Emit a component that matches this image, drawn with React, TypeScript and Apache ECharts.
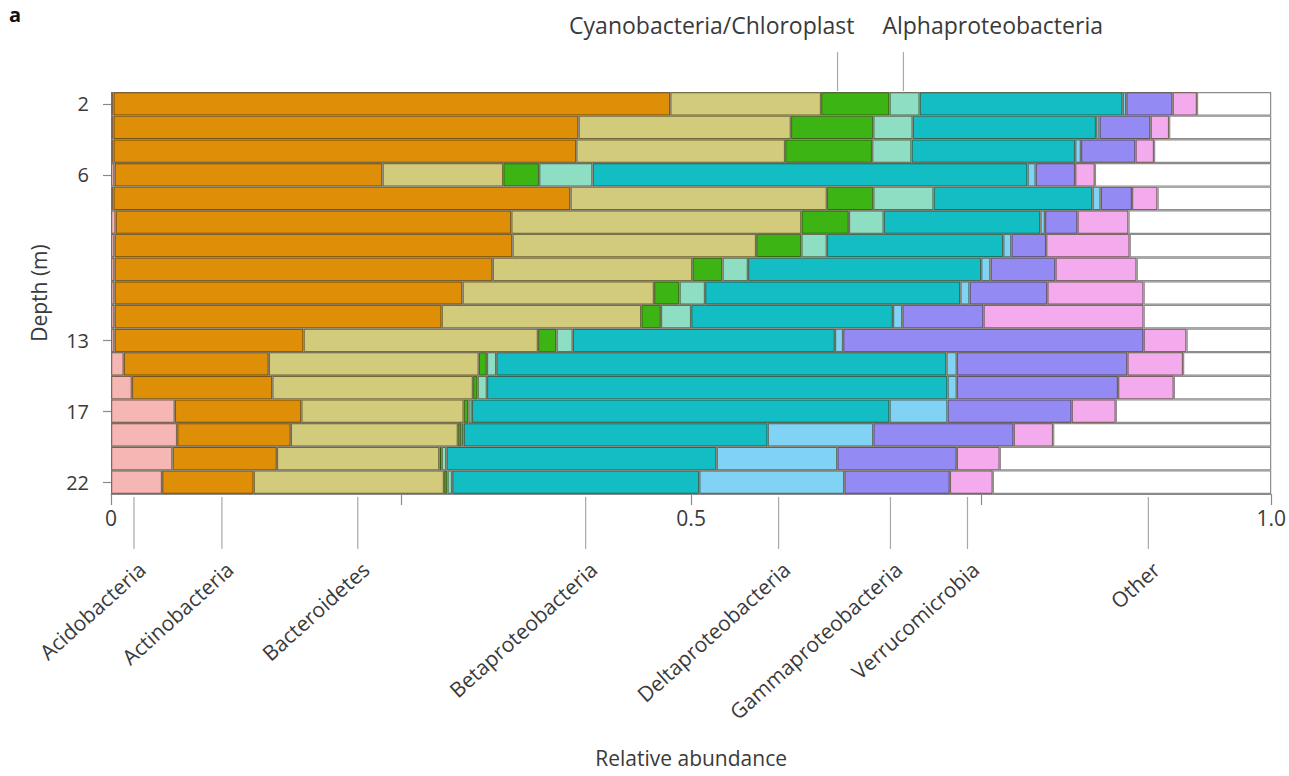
import React, { useEffect, useRef } from "react";
import * as echarts from "echarts";

const depths = ["2", "3", "4", "6", "7", "8", "9", "10", "11", "12", "13", "15", "16", "17", "19", "20", "22"];
const shownDepths = ["2", "6", "13", "17", "22"];

const groups = [
  "Acidobacteria",
  "Actinobacteria",
  "Bacteroidetes",
  "Cyanobacteria/Chloroplast",
  "Alphaproteobacteria",
  "Betaproteobacteria",
  "Deltaproteobacteria",
  "Gammaproteobacteria",
  "Verrucomicrobia",
  "Other",
];
const groupColors = ["#F5B6B4", "#DF8E08", "#D3CB7C", "#3CB514", "#8EDEC3", "#12BEC4", "#80D3F5", "#948AF4", "#F3ABEE", "#FFFFFF"];

const acido = [0.002, 0.002, 0.002, 0.003, 0.002, 0.004, 0.003, 0.003, 0.003, 0.003, 0.003, 0.011, 0.018, 0.055, 0.057, 0.053, 0.044];
const actino = [0.48, 0.401, 0.399, 0.231, 0.394, 0.341, 0.343, 0.326, 0.3, 0.282, 0.163, 0.125, 0.121, 0.109, 0.098, 0.09, 0.079];
const bactero = [0.13, 0.183, 0.18, 0.104, 0.221, 0.25, 0.21, 0.172, 0.165, 0.172, 0.202, 0.181, 0.173, 0.14, 0.144, 0.14, 0.164];
const cyano = [0.059, 0.071, 0.075, 0.031, 0.04, 0.041, 0.039, 0.026, 0.022, 0.017, 0.016, 0.007, 0.004, 0.004, 0.003, 0.002, 0.003];
const alpha = [0.026, 0.034, 0.034, 0.046, 0.052, 0.03, 0.022, 0.022, 0.022, 0.026, 0.014, 0.008, 0.008, 0.003, 0.002, 0.004, 0.004];
const beta = [0.175, 0.158, 0.141, 0.375, 0.137, 0.135, 0.152, 0.201, 0.22, 0.174, 0.226, 0.388, 0.397, 0.36, 0.262, 0.233, 0.213];
const delta = [0.003, 0.003, 0.005, 0.007, 0.007, 0.004, 0.007, 0.008, 0.008, 0.008, 0.007, 0.009, 0.008, 0.05, 0.091, 0.104, 0.125];
const gamma = [0.04, 0.044, 0.047, 0.034, 0.027, 0.028, 0.03, 0.056, 0.067, 0.07, 0.259, 0.147, 0.139, 0.107, 0.121, 0.103, 0.091];
const verruco = [0.021, 0.016, 0.016, 0.017, 0.022, 0.044, 0.072, 0.07, 0.083, 0.138, 0.037, 0.048, 0.048, 0.038, 0.034, 0.037, 0.037];
const other = [0.064, 0.088, 0.101, 0.152, 0.098, 0.123, 0.122, 0.116, 0.11, 0.11, 0.073, 0.076, 0.084, 0.134, 0.188, 0.234, 0.24];

const seriesValues = [acido, actino, bactero, cyano, alpha, beta, delta, gamma, verruco, other];

// annotation label positions (relative abundance value each pointer line sits at)
const bottomLabelNames = ["Acidobacteria", "Actinobacteria", "Bacteroidetes", "Betaproteobacteria", "Deltaproteobacteria", "Gammaproteobacteria", "Verrucomicrobia", "Other"];
const bottomLabelPos = [0.0198, 0.0956, 0.2127, 0.4091, 0.5754, 0.6718, 0.7382, 0.8941];
const topLabelNames = ["Cyanobacteria/Chloroplast", "Alphaproteobacteria"];
const topLabelPos = [0.6262, 0.683];

const xTickLabels: Record<string, string> = { "0": "0", "0.5": "0.5", "1": "1.0" };

const FONT = "'Open Sans', 'Noto Sans', sans-serif";
const TEXT = "#3a3a3a";
const GRID_TOP = 92;
const GRID_BOTTOM = 282;
const H = 776;

export default function App() {
  const ref = useRef<HTMLDivElement>(null);
  useEffect(() => {
    if (!ref.current) return;
    const chart = echarts.init(ref.current, null, { renderer: "svg" });
    const option: any = {
      animation: false,
      backgroundColor: "#ffffff",
      grid: { left: 111, right: 17, top: GRID_TOP, bottom: GRID_BOTTOM, containLabel: false },
      xAxis: {
        type: "value",
        min: 0,
        max: 1,
        interval: 0.25,
        splitLine: { show: false },
        axisLine: { show: true, lineStyle: { color: "#8a8a8a", width: 1.2 } },
        axisTick: { show: true, length: 11, lineStyle: { color: "#8a8a8a", width: 1.2 } },
        axisLabel: {
          margin: 13,
          color: TEXT,
          fontFamily: FONT,
          fontSize: 21,
          formatter: (v: number) => xTickLabels[String(v)] ?? "",
        },
        name: "Relative abundance",
        nameLocation: "middle",
        nameGap: 253,
        nameTextStyle: { color: TEXT, fontFamily: FONT, fontSize: 21 },
      },
      yAxis: {
        type: "category",
        inverse: true,
        data: depths,
        axisLine: { show: false },
        axisTick: {
          show: true,
          length: 8,
          alignWithLabel: true,
          interval: (i: number, v: string) => shownDepths.includes(v),
          lineStyle: { color: "#8a8a8a", width: 1.2 },
        },
        axisLabel: {
          margin: 22,
          color: TEXT,
          fontFamily: FONT,
          fontSize: 20,
          interval: (i: number, v: string) => shownDepths.includes(v),
        },
        name: "Depth (m)",
        nameLocation: "middle",
        nameGap: 62,
        nameTextStyle: { color: TEXT, fontFamily: FONT, fontSize: 21 },
      },
      series: groups.map((g, k) => ({
        name: g,
        type: "bar",
        stack: "total",
        barCategoryGap: "0%",
        data: seriesValues[k],
        itemStyle: {
          color: groupColors[k],
          borderColor: k === 9 ? "#8c8c8c" : "rgba(40,30,0,0.6)",
          borderWidth: 1.2,
        },
        emphasis: { disabled: true },
      })),
    };
    chart.setOption(option);

    const axisY = H - GRID_BOTTOM;
    const graphics: any[] = [];
    bottomLabelNames.forEach((name, i) => {
      const x = chart.convertToPixel({ xAxisIndex: 0 }, bottomLabelPos[i]) as number;
      graphics.push({
        type: "line",
        shape: { x1: x, y1: axisY + 3, x2: x, y2: axisY + 55 },
        style: { stroke: "#a8a8a8", lineWidth: 1.2 },
        silent: true,
      });
      graphics.push({
        type: "text",
        x: x + 8,
        y: axisY + 72,
        rotation: (42 * Math.PI) / 180,
        style: { text: name, align: "right", verticalAlign: "middle", fill: TEXT, font: `21px ${FONT}` },
        silent: true,
      });
    });
    topLabelNames.forEach((name, i) => {
      const x = chart.convertToPixel({ xAxisIndex: 0 }, topLabelPos[i]) as number;
      graphics.push({
        type: "line",
        shape: { x1: x, y1: 52, x2: x, y2: GRID_TOP - 1 },
        style: { stroke: "#a8a8a8", lineWidth: 1.2 },
        silent: true,
      });
      graphics.push({
        type: "text",
        x: i === 0 ? x + 17 : x - 21,
        y: 25,
        style: { text: name, align: i === 0 ? "right" : "left", verticalAlign: "middle", fill: TEXT, font: `23px ${FONT}` },
        silent: true,
      });
    });
    graphics.push({
      type: "text",
      x: 9,
      y: 14,
      style: { text: "a", align: "left", verticalAlign: "middle", fill: "#111", font: `bold 20px ${FONT}` },
      silent: true,
    });
    chart.setOption({ graphic: graphics });

    return () => chart.dispose();
  }, []);
  return <div ref={ref} style={{ position: "fixed", left: 0, top: 0, width: 1289, height: 776 }} />;
}
